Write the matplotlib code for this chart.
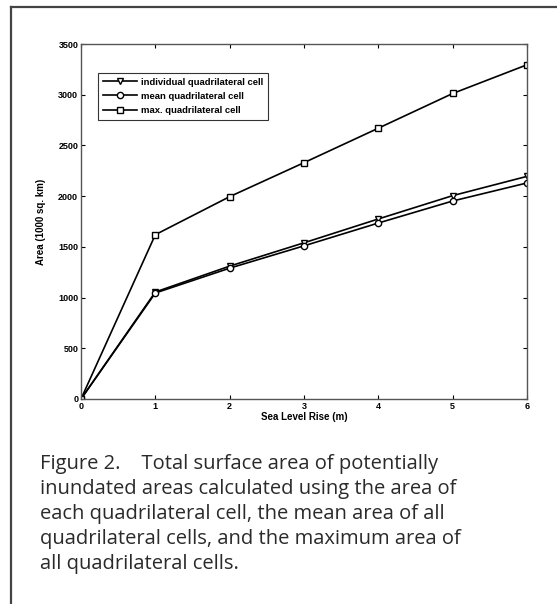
import numpy as np
import matplotlib
matplotlib.use("Agg")
import matplotlib.pyplot as plt
from matplotlib.lines import Line2D

# data
slr = [0, 1, 2, 3, 4, 5, 6]
individual = [0, 1055, 1310, 1540, 1775, 2005, 2195]
mean_cell = [0, 1045, 1290, 1510, 1735, 1952, 2130]
max_cell = [0, 1620, 1995, 2330, 2670, 3012, 3295]
labels = ["individual quadrilateral cell", "mean quadrilateral cell", "max. quadrilateral cell"]
caption = ("Figure 2.    Total surface area of potentially\n"
           "inundated areas calculated using the area of\n"
           "each quadrilateral cell, the mean area of all\n"
           "quadrilateral cells, and the maximum area of\n"
           "all quadrilateral cells.")

plt.rcParams['font.family'] = ['Liberation Sans', 'DejaVu Sans']

fig = plt.figure(figsize=(5.57, 6.04), dpi=100)
ax = fig.add_axes([81/557, 1-399/604, 446/557, 355/604])

mk = dict(color='black', lw=1.2, markersize=4.5, markerfacecolor='white', markeredgewidth=1.0)
ax.plot(slr, individual, marker='v', label=labels[0], **mk)
ax.plot(slr, mean_cell, marker='o', label=labels[1], **mk)
ax.plot(slr, max_cell, marker='s', label=labels[2], **mk)

ax.set_xlim(0, 6)
ax.set_ylim(0, 3500)
ax.set_xticks(range(0, 7))
ax.set_yticks(range(0, 3501, 500))
ax.tick_params(direction='in', top=True, right=True, length=3, width=0.8,
               labelsize=6.5, pad=2, colors='black')
for lab in ax.get_xticklabels() + ax.get_yticklabels():
    lab.set_fontweight('bold')
for s in ax.spines.values():
    s.set_color('#555555')
    s.set_linewidth(1.0)

ax.set_xlabel("Sea Level Rise (m)", fontsize=7, fontweight='bold', labelpad=1)
ax.set_ylabel("Area (1000 sq. km)", fontsize=7, fontweight='bold', labelpad=9)

leg = ax.legend(loc='upper left', bbox_to_anchor=(14/446, 1-26/355), fontsize=6.8,
                frameon=True, fancybox=False, handlelength=3.6, borderpad=0.5,
                labelspacing=0.55, handletextpad=0.5, borderaxespad=0.3)
leg.get_frame().set_edgecolor('black')
leg.get_frame().set_linewidth(0.8)
for t in leg.get_texts():
    t.set_fontweight('bold')

# page frame
fig.add_artist(Line2D([10.5/557, 10.5/557], [0, 1-7/604], transform=fig.transFigure, color='#444444', lw=1.6))
fig.add_artist(Line2D([10.5/557, 1], [1-7/604, 1-7/604], transform=fig.transFigure, color='#444444', lw=1.6))

fig.text(40/557, 1-454/604, caption, fontsize=14.5, va='top', ha='left',
         color='#2a2a2a', linespacing=1.33, family=['Open Sans', 'DejaVu Sans'])

fig.savefig("out.png", dpi=100)
